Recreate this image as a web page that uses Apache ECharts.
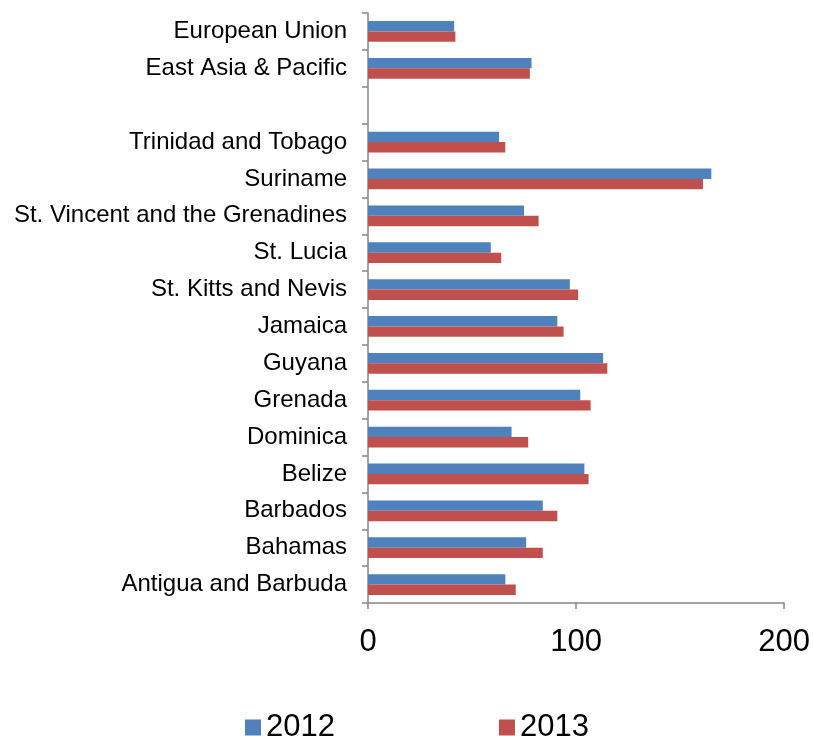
<!DOCTYPE html>
<html>
<head>
<meta charset="utf-8">
<script src="https://cdn.jsdelivr.net/npm/echarts@6/dist/echarts.min.js"></script>
<style>
  html, body { margin: 0; padding: 0; background: #ffffff; }
  #chart { width: 813px; height: 736px; }
</style>
</head>
<body>
<div id="chart"></div>
<script>
// Categories listed bottom to top; the empty entry leaves a spacer row
const categories = [
  'Antigua and Barbuda', 'Bahamas', 'Barbados', 'Belize', 'Dominica',
  'Grenada', 'Guyana', 'Jamaica', 'St. Kitts and Nevis', 'St. Lucia',
  'St. Vincent and the Grenadines', 'Suriname', 'Trinidad and Tobago',
  '', 'East Asia & Pacific', 'European Union'
];
const values2012 = [66, 76, 84, 104, 69, 102, 113, 91, 97, 59, 75, 165, 63, null, 78.6, 41.4];
const values2013 = [71, 84, 91, 106, 77, 107, 115, 94, 101, 64, 82, 161, 66, null, 77.8, 42];
const seriesNames = ['2012', '2013'];
const xTicks = { min: 0, max: 200, interval: 100 };

const axisGray = '#868686';
const font = "'Liberation Sans', Arial, sans-serif";

const chart = echarts.init(document.getElementById('chart'), null, { renderer: 'canvas' });
chart.setOption({
  animation: false,
  backgroundColor: '#ffffff',
  grid: { left: 368, right: 28, top: 13, bottom: 133, containLabel: false },
  legend: {
    data: seriesNames,
    left: 240,
    top: 707,
    itemWidth: 16,
    itemHeight: 16,
    itemGap: 164,
    icon: 'rect',
    textStyle: { fontFamily: font, fontSize: 31, color: '#000000' }
  },
  xAxis: {
    type: 'value',
    min: xTicks.min,
    max: xTicks.max,
    interval: xTicks.interval,
    axisLine: { show: true, lineStyle: { color: axisGray, width: 1.5 } },
    axisTick: { show: true, length: 6, lineStyle: { color: axisGray, width: 1.5 } },
    splitLine: { show: false },
    axisLabel: { fontFamily: font, fontSize: 31, color: '#000000', margin: 24 }
  },
  yAxis: {
    type: 'category',
    data: categories,
    axisLine: { show: true, lineStyle: { color: axisGray, width: 1.5 } },
    axisTick: { show: true, length: 6, lineStyle: { color: axisGray, width: 1.5 } },
    axisLabel: { fontFamily: font, fontSize: 24, color: '#000000', margin: 21, interval: 0 }
  },
  series: [
    {
      name: seriesNames[0],
      type: 'bar',
      data: values2012,
      itemStyle: { color: '#4F81BD' },
      barGap: '0%',
      barCategoryGap: '44%'
    },
    {
      name: seriesNames[1],
      type: 'bar',
      data: values2013,
      itemStyle: { color: '#C0504D' },
      barGap: '0%',
      barCategoryGap: '44%'
    }
  ]
});
</script>
</body>
</html>
